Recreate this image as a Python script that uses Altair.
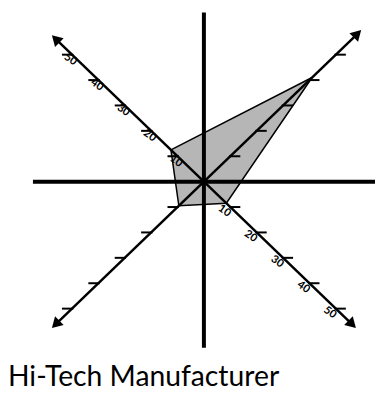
import altair as alt
import pandas as pd

# --- data ---
directions = ["upper-left", "upper-right", "lower-right", "lower-left"]
dir_x = [-1, 1, 1, -1]
dir_y = [1, 1, -1, -1]
axis_length = [58, 60, 58, 58]
series_values = [12.5, 41, 8.5, 9.5]
tick_values = [10, 20, 30, 40, 50]
tick_labels = ["10", "20", "30", "40", "50"]
labelled_axes = ["upper-left", "lower-right"]
title_text = "Hi-Tech Manufacturer"

XS = alt.Scale(domain=[-74.25, 64.85], nice=False, zero=False)
YS = alt.Scale(domain=[-68.55, 66.2], nice=False, zero=False)

# polygon
poly_rows = []
for i, (d, sx, sy, val) in enumerate(zip(directions, dir_x, dir_y, series_values)):
    poly_rows.append({"i": i, "u": sx * val, "v": sy * val})
poly_rows.append({"i": len(directions), "u": poly_rows[0]["u"], "v": poly_rows[0]["v"]})
poly_df = pd.DataFrame(poly_rows)

# main cross lines
cross_df = pd.DataFrame([
    {"u": -64.8, "v": 0, "u2": 64.85, "v2": 0},
    {"u": 0, "v": 66.6, "u2": 0, "v2": -65.4},
])

# diagonal axes
diag_df = pd.DataFrame([
    {"u": 0, "v": 0, "u2": sx * (L - 2), "v2": sy * (L - 2)}
    for sx, sy, L in zip(dir_x, dir_y, axis_length)
])

# arrow heads
angles = {"upper-left": 315, "upper-right": 45, "lower-right": 135, "lower-left": 225}
arrow_df = pd.DataFrame([
    {"u": sx * (L - 1.8), "v": sy * (L - 1.8), "angle": angles[d]}
    for d, sx, sy, L in zip(directions, dir_x, dir_y, axis_length)
])

# ticks
tick_rows = []
for d, sx, sy in zip(directions, dir_x, dir_y):
    for t in tick_values:
        tick_rows.append({"u": sx * t - sx * 0.5, "u2": sx * t + sx * 3.8, "v": sy * t})
tick_df = pd.DataFrame(tick_rows)

# labels
lab_rows = []
for d, sx, sy in zip(directions, dir_x, dir_y):
    if d not in labelled_axes:
        continue
    for t, lab in zip(tick_values, tick_labels):
        if d == "upper-left":
            lab_rows.append({"u": sx * t - 0.56, "v": sy * t - 1.95, "label": lab})
        else:
            lab_rows.append({"u": sx * t - 2.25, "v": sy * t - 1.56, "label": lab})
lab_df = pd.DataFrame(lab_rows)

x_enc = alt.X("u:Q", scale=XS, axis=None)
y_enc = alt.Y("v:Q", scale=YS, axis=None)

polygon = alt.Chart(poly_df).mark_line(
    fill="#b6b6b6", stroke="black", strokeWidth=1.5, strokeJoin="miter"
).encode(x=x_enc, y=y_enc, order="i:Q")

cross = alt.Chart(cross_df).mark_rule(color="black", strokeWidth=4).encode(
    x=x_enc, y=y_enc, x2="u2:Q", y2="v2:Q")

diag = alt.Chart(diag_df).mark_rule(color="black", strokeWidth=2.5).encode(
    x=x_enc, y=y_enc, x2="u2:Q", y2="v2:Q")

arrows = alt.Chart(arrow_df).mark_point(
    shape="triangle-up", filled=True, color="black", size=150, opacity=1
).encode(x=x_enc, y=y_enc, angle=alt.Angle("angle:Q", scale=None))

ticks = alt.Chart(tick_df).mark_rule(color="black", strokeWidth=2).encode(
    x=x_enc, y=y_enc, x2="u2:Q")

labels = alt.Chart(lab_df).mark_text(
    font="Lato", fontSize=11, fontWeight="bold", angle=35, color="black"
).encode(x=x_enc, y=y_enc, text="label:N")

chart = alt.layer(polygon, cross, diag, ticks, labels, arrows).properties(
    width=370, height=345,
    padding={"left": 0, "top": 0, "right": 0, "bottom": 0},
    title=alt.TitleParams(
        title_text, orient="bottom", anchor="start", fontSize=28.5,
        font="Lato", fontWeight="normal", color="black", offset=8
    ),
).configure_view(stroke=None)

chart.save("out.html", embed_options={"renderer": "svg", "actions": False})
